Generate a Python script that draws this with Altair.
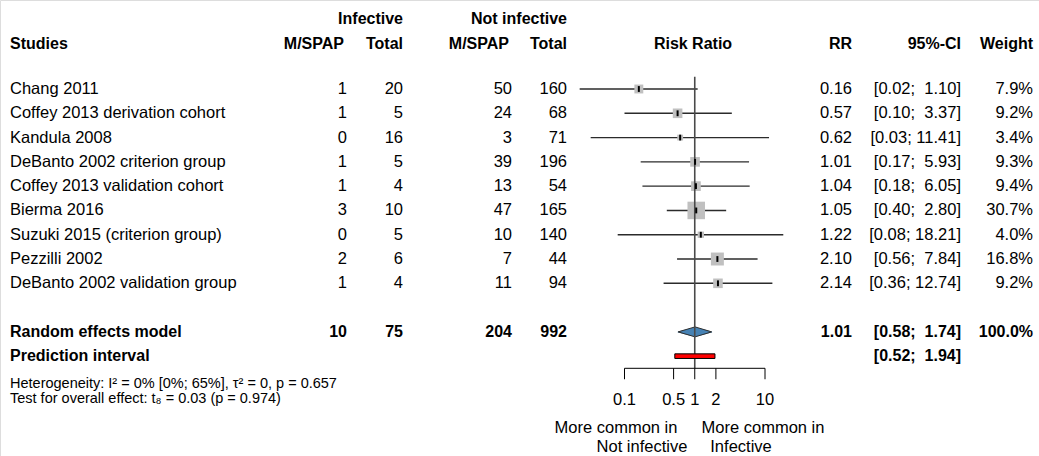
import altair as alt
import pandas as pd

# ---------------- data ----------------
studies = ["Chang 2011", "Coffey 2013 derivation cohort", "Kandula 2008",
           "DeBanto 2002 criterion group", "Coffey 2013 validation cohort",
           "Bierma 2016", "Suzuki 2015 (criterion group)", "Pezzilli 2002",
           "DeBanto 2002 validation group"]
ev_inf = [1, 1, 0, 1, 1, 3, 0, 2, 1]
n_inf = [20, 5, 16, 5, 4, 10, 5, 6, 4]
ev_ninf = [50, 24, 3, 39, 13, 47, 10, 7, 11]
n_ninf = [160, 68, 71, 196, 54, 165, 140, 44, 94]
rr = [0.16, 0.57, 0.62, 1.01, 1.04, 1.05, 1.22, 2.10, 2.14]
ci_lo = [0.023, 0.10, 0.033, 0.17, 0.18, 0.40, 0.08, 0.56, 0.36]
ci_hi = [1.10, 3.37, 11.41, 5.93, 6.05, 2.80, 18.21, 7.84, 12.74]
weight = [7.9, 9.2, 3.4, 9.3, 9.4, 30.7, 4.0, 16.8, 9.2]

re_rr, re_lo, re_hi, re_weight = 1.01, 0.58, 1.74, 100.0
pi_lo, pi_hi = 0.52, 1.94
axis_ticks = [0.1, 0.5, 1, 2, 10]
axis_labels = ["0.1", "0.5", "1", "2", "10"]
het_text = "Heterogeneity: I\u00b2 = 0% [0%; 65%], \u03c4\u00b2 = 0, p = 0.657"
test_text = "Test for overall effect: t\u2088 = 0.03 (p = 0.974)"

FONT = "Liberation Sans"
FS = 16.5

# ---------------- scales ----------------
YS = alt.Scale(domain=[0, 8], range=[89, 283.3], zero=False, nice=False)
XS = alt.Scale(type="log", domain=[0.1, 10], range=[624.5, 765], nice=False, clamp=False)


def fmt_ci(lo, hi):
    hs = f"{hi:.2f}"
    pad = "\u00a0" if len(hs) < 5 else ""
    return f"[{lo:.2f}; {pad}{hs}]"


n = len(studies)
df = pd.DataFrame({
    "row": list(range(n)),
    "study": studies,
    "ev_inf": [str(v) for v in ev_inf],
    "n_inf": [str(v) for v in n_inf],
    "ev_ninf": [str(v) for v in ev_ninf],
    "n_ninf": [str(v) for v in n_ninf],
    "rr": rr, "lo": ci_lo, "hi": ci_hi, "weight": weight,
    "rr_t": [f"{v:.2f}" for v in rr],
    "ci_t": [fmt_ci(a, b) for a, b in zip(ci_lo, ci_hi)],
    "w_t": [f"{w:.1f}%" for w in weight],
})

row_re = n + 1
row_pi = n + 2
df_re = pd.DataFrame({
    "row": [row_re],
    "study": ["Random effects model"],
    "ev_inf": [str(sum(ev_inf))], "n_inf": [str(sum(n_inf))],
    "ev_ninf": [str(sum(ev_ninf))], "n_ninf": [str(sum(n_ninf))],
    "rr_t": [f"{re_rr:.2f}"], "ci_t": [fmt_ci(re_lo, re_hi)],
    "w_t": [f"{re_weight:.1f}%"],
})
df_pi = pd.DataFrame({"row": [row_pi], "study": ["Prediction interval"],
                      "ci_t": [fmt_ci(pi_lo, pi_hi)]})


def txt(data, field, x, align="right", bold=False, size=FS, color="#000000"):
    return alt.Chart(data).mark_text(
        align=align, baseline="middle", font=FONT, fontSize=size,
        fontWeight="bold" if bold else "normal", color=color
    ).encode(
        x=alt.value(x),
        y=alt.Y("row:Q", scale=YS, axis=None),
        text=alt.Text(f"{field}:N"),
    )


layers = []

# headers
hdr1 = -2.88
hdr2 = -1.87
headers = [
    ("Infective", 403, "right", hdr1),
    ("Not infective", 567, "right", hdr1),
    ("Studies", 10, "left", hdr2),
    ("M/SPAP", 344, "right", hdr2),
    ("Total", 403, "right", hdr2),
    ("M/SPAP", 509, "right", hdr2),
    ("Total", 567, "right", hdr2),
    ("Risk Ratio", 693, "center", hdr2),
    ("RR", 852, "right", hdr2),
    ("95%-CI", 961, "right", hdr2),
    ("Weight", 1033, "right", hdr2),
]
for label, x, al, r in headers:
    layers.append(txt(pd.DataFrame({"row": [r], "t": [label]}), "t", x, al, bold=True, size=16))

# study columns
cols = [("study", 10, "left"), ("ev_inf", 347, "right"), ("n_inf", 403, "right"),
        ("ev_ninf", 512, "right"), ("n_ninf", 567, "right"), ("rr_t", 852, "right"),
        ("ci_t", 961, "right"), ("w_t", 1033, "right")]
for f, x, al in cols:
    layers.append(txt(df, f, x, al))
    layers.append(txt(df_re, f, x, al, bold=True, size=16))
layers.append(txt(df_pi, "study", 10, "left", bold=True, size=16))
layers.append(txt(df_pi, "ci_t", 961, "right", bold=True, size=16))

# heterogeneity text
layers.append(txt(pd.DataFrame({"row": [12.14], "t": [het_text]}), "t", 10, "left", size=14.5))
layers.append(txt(pd.DataFrame({"row": [12.76], "t": [test_text]}), "t", 10, "left", size=14.5))

# CI lines
layers.append(alt.Chart(df).mark_rule(color="#2b2b2b", strokeWidth=1.4).encode(
    x=alt.X("lo:Q", scale=XS, axis=None), x2="hi:Q",
    y=alt.Y("row:Q", scale=YS, axis=None)))

# weight squares
layers.append(alt.Chart(df).mark_point(shape="square", filled=True, color="#c0c0c0", opacity=1).encode(
    x=alt.X("rr:Q", scale=XS, axis=None),
    y=alt.Y("row:Q", scale=YS, axis=None),
    size=alt.Size("weight:Q", scale=alt.Scale(type="linear", domain=[0, 100], range=[0, 1000]), legend=None)))

# diamond (random effects): filled with a trail, outlined with a closed line
dia = pd.DataFrame({"val": [re_lo, re_rr, re_hi], "k": [0.0, 1.0, 0.0],
                    "row": [row_re] * 3})
layers.append(alt.Chart(dia).mark_trail(color="#4682b4", opacity=1).encode(
    x=alt.X("val:Q", scale=XS, axis=None),
    y=alt.Y("row:Q", scale=YS, axis=None),
    size=alt.Size("k:Q", scale=alt.Scale(type="linear", domain=[0, 1], range=[0, 10]), legend=None),
    order="val:Q"))
outline = pd.DataFrame({
    "val": [re_lo, re_rr, re_hi, re_rr, re_lo],
    "dy": [0.0, -1.0, 0.0, 1.0, 0.0],
    "o": [0, 1, 2, 3, 4],
})
layers.append(alt.Chart(outline).transform_calculate(
    yy=f"{row_re} + 0.205 * datum.dy").mark_line(color="#2f2f2f", strokeWidth=1).encode(
    x=alt.X("val:Q", scale=XS, axis=None),
    y=alt.Y("yy:Q", scale=YS, axis=None),
    order="o:Q"))

# reference line at 1 (drawn over squares and diamond)
ref = pd.DataFrame({"x": [1.0], "y": [-0.5], "y2": [row_pi + 0.5]})
layers.append(alt.Chart(ref).mark_rule(color="#4a4a4a", strokeWidth=1.6).encode(
    x=alt.X("x:Q", scale=XS, axis=None),
    y=alt.Y("y:Q", scale=YS, axis=None), y2="y2:Q"))

# black estimate marks
layers.append(alt.Chart(df).transform_calculate(
    ya="datum.row - 0.12", yb="datum.row + 0.12").mark_rule(color="#000000", strokeWidth=2).encode(
    x=alt.X("rr:Q", scale=XS, axis=None),
    y=alt.Y("ya:Q", scale=YS, axis=None), y2="yb:Q"))

# prediction interval bar
pdf = pd.DataFrame({"lo": [pi_lo], "hi": [pi_hi], "row": [row_pi]})
layers.append(alt.Chart(pdf).transform_calculate(
    ya="datum.row - 0.095", yb="datum.row + 0.095").mark_rect(
    color="#ff0000", stroke="#000000", strokeWidth=1).encode(
    x=alt.X("lo:Q", scale=XS, axis=None), x2="hi:Q",
    y=alt.Y("ya:Q", scale=YS, axis=None), y2="yb:Q"))

# axis line, ticks, labels
ax_row = row_pi + 0.5
axl = pd.DataFrame({"a": [min(axis_ticks)], "b": [max(axis_ticks)], "row": [ax_row]})
layers.append(alt.Chart(axl).mark_rule(color="#000000", strokeWidth=1).encode(
    x=alt.X("a:Q", scale=XS, axis=None), x2="b:Q",
    y=alt.Y("row:Q", scale=YS, axis=None)))
tk = pd.DataFrame({"x": axis_ticks, "lab": axis_labels, "y": [ax_row] * len(axis_ticks),
                   "y2": [ax_row + 0.45] * len(axis_ticks), "ly": [12.8] * len(axis_ticks)})
layers.append(alt.Chart(tk).mark_rule(color="#000000", strokeWidth=1).encode(
    x=alt.X("x:Q", scale=XS, axis=None),
    y=alt.Y("y:Q", scale=YS, axis=None), y2="y2:Q"))
layers.append(alt.Chart(tk).mark_text(font=FONT, fontSize=FS, baseline="middle", align="center",
                                      color="#000000").encode(
    x=alt.X("x:Q", scale=XS, axis=None),
    y=alt.Y("ly:Q", scale=YS, axis=None), text="lab:N"))

# direction labels
dirs = [("More common in", 616, 13.95), ("Not infective", 642, 14.72),
        ("More common in", 763, 13.95), ("Infective", 741, 14.72)]
for label, x, r in dirs:
    layers.append(txt(pd.DataFrame({"row": [r], "t": [label]}), "t", x, "center"))

chart = alt.layer(*layers).properties(
    width=1039, height=456,
    autosize=alt.AutoSizeParams(type="none"),
    padding=0,
).configure_view(stroke=None).configure(background="white")

chart.save("out.html", embed_options={"renderer": "svg", "actions": False})
